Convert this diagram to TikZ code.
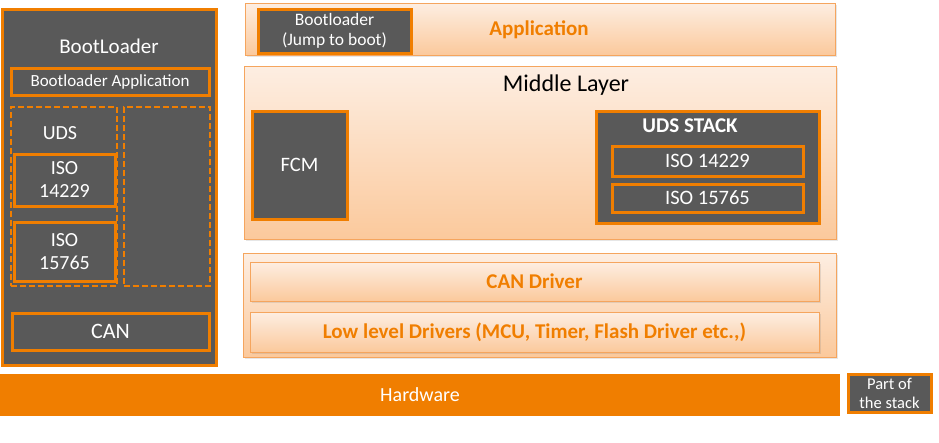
\documentclass[tikz,border=0pt]{standalone}
\usepackage{fontspec}
\setmainfont{Carlito}
\usetikzlibrary{positioning,shadows}

\definecolor{bgray}{HTML}{595959}
\definecolor{borange}{HTML}{F07E00}
\definecolor{ltop}{HTML}{FDEEE2}
\definecolor{lbot}{HTML}{FBC99C}
\definecolor{ledge}{HTML}{F5A55E}

\tikzset{
    darkbox/.style={draw=borange, fill=bgray, line width=3pt, text=white, inner sep=0pt, align=center},
    dashbox/.style={draw=borange, dash pattern=on 6pt off 3pt, line width=2pt, inner sep=0pt},
    band/.style={draw=ledge, line width=1pt, top color=ltop, bottom color=lbot, inner sep=0pt,
        drop shadow={opacity=0.2, shadow xshift=1.5pt, shadow yshift=-1.5pt}},
    bandtext/.style={text=borange, font=\fontsize{21}{24}\selectfont\bfseries},
    wtext/.style={text=white, inner sep=0pt}
}

\begin{document}
\begin{tikzpicture}[x=1pt, y=-1pt, font=\fontsize{20}{23}\selectfont]
    \useasboundingbox (0,0) rectangle (939,442);

    % 左侧 BootLoader 区块
    \node[darkbox, minimum width=214pt, minimum height=356pt] (boot) at (109.5,187.5) {};
    \node[wtext, font=\fontsize{21}{24}\selectfont] (boottitle) at (109,46) {BootLoader};
    \node[darkbox, minimum width=198pt, minimum height=27pt, font=\fontsize{17}{20}\selectfont] (bootapp) at (110,81.5) {Bootloader Application};
    \node[dashbox, minimum width=106pt, minimum height=179pt] (udsdash) at (64,196.5) {};
    \node[dashbox, minimum width=86pt, minimum height=179pt] (restdash) at (167,196.5) {};
    \node[wtext] (udstitle) at (60,133) {UDS};
    \node[darkbox, minimum width=101pt, minimum height=52pt, font=\fontsize{20}{23}\selectfont] (bootiso1) at (64.5,180) {ISO\\14229};
    \node[darkbox, minimum width=101pt, minimum height=59pt, font=\fontsize{20}{23}\selectfont] (bootiso2) at (64.5,251.5) {ISO\\15765};
    \node[darkbox, minimum width=197pt, minimum height=37pt, font=\fontsize{22}{24}\selectfont] (bootcan) at (110.5,331.5) {CAN};

    % 右侧应用层
    \node[band, minimum width=590pt, minimum height=52pt] (app) at (540,29) {};
    \node[bandtext] (apptext) at (539,30) {Application};
    \node[darkbox, minimum width=153pt, minimum height=44pt, font=\fontsize{17.5}{20}\selectfont] (jump) at (334.5,31) {Bootloader\\(Jump to boot)};

    % 中间层
    \node[band, minimum width=592pt, minimum height=173pt] (mid) at (540,152.5) {};
    \node[font=\fontsize{24}{26}\selectfont] (midtext) at (566,85) {Middle Layer};
    \node[darkbox, minimum width=95pt, minimum height=108pt, font=\fontsize{20.5}{23}\selectfont] (fcm) at (299.5,165) {FCM};
    \node[darkbox, minimum width=223pt, minimum height=112pt] (udsstack) at (707.5,167) {};
    \node[wtext, font=\fontsize{21}{24}\selectfont\bfseries] (stacktitle) at (690,126) {UDS STACK};
    \node[darkbox, minimum width=191pt, minimum height=30pt, font=\fontsize{20.5}{23}\selectfont] (stackiso1) at (707.5,161) {ISO 14229};
    \node[darkbox, minimum width=191pt, minimum height=28pt, font=\fontsize{20.5}{23}\selectfont] (stackiso2) at (707.5,198) {ISO 15765};

    % 驱动层
    \node[band, minimum width=593pt, minimum height=104pt] (drv) at (539.5,305) {};
    \node[band, minimum width=569pt, minimum height=39pt, bandtext] (candrv) at (534.5,281.5) {CAN Driver};
    \node[band, minimum width=569pt, minimum height=40pt, bandtext] (lowdrv) at (534.5,332) {Low level Drivers (MCU, Timer, Flash Driver etc.,)};

    % 硬件及图例
    \node[fill=borange, minimum width=840pt, minimum height=42pt, inner sep=0pt, text=white, font=\fontsize{20}{22}\selectfont] (hw) at (420,395) {Hardware};
    \node[darkbox, minimum width=83pt, minimum height=38pt, font=\fontsize{16.5}{19}\selectfont] (legend) at (889.5,393) {Part of\\the stack};
\end{tikzpicture}
\end{document}
